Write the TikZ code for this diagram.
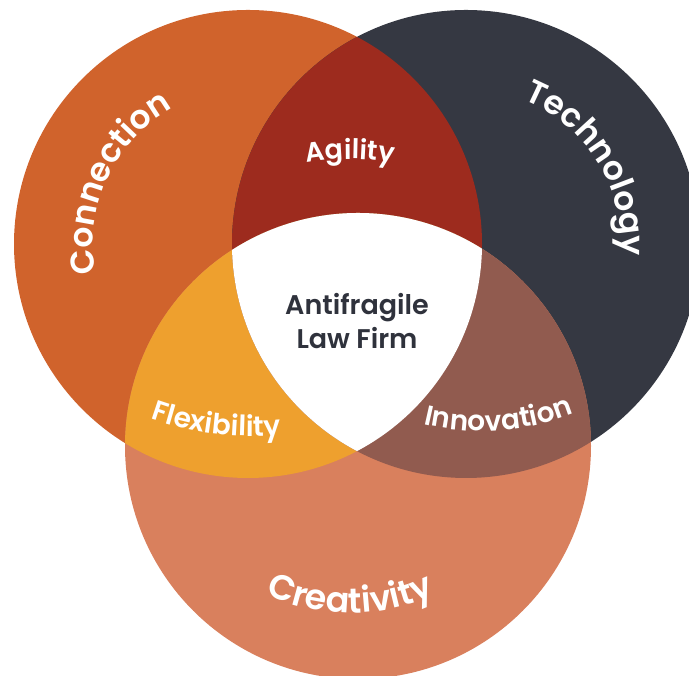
\documentclass[tikz,border=0pt]{standalone}
\usepackage{fontspec}
\setmainfont{Poppins}
\newfontfamily\popsemi{Poppins SemiBold}
\usetikzlibrary{decorations.text}

\definecolor{connC}{HTML}{D0632C}
\definecolor{techC}{HTML}{353842}
\definecolor{creaC}{HTML}{D9805D}
\definecolor{agilC}{HTML}{9D2B1E}
\definecolor{flexC}{HTML}{EEA02E}
\definecolor{innoC}{HTML}{915B4F}
\definecolor{coreText}{HTML}{2F323C}

\tikzset{
  arclabel/.style n args={2}{
    decorate,
    decoration={text along path, text align=center, text color=white,
      text={|\popsemi\fontsize{#1}{#1}\selectfont|#2}}
  },
  corelabel/.style={anchor=base, text=coreText, inner sep=0pt,
    font=\popsemi\fontsize{27}{27}\selectfont}
}

\begin{document}
\begin{tikzpicture}[x=1pt,y=1pt]
  \useasboundingbox (0,0) rectangle (689,676);

  % circle centres
  \coordinate (cC) at (248,432);
  \coordinate (cT) at (466,432);
  \coordinate (cR) at (358,230);

  % the three sets
  \fill[connC] (cC) circle[radius=234];
  \fill[techC] (cT) circle[radius=234];
  \fill[creaC] (cR) circle[radius=233];

  % pairwise overlaps
  \begin{scope}
    \clip (cC) circle[radius=234];
    \fill[agilC] (cT) circle[radius=234];
  \end{scope}
  \begin{scope}
    \clip (cC) circle[radius=234];
    \fill[flexC] (cR) circle[radius=233];
  \end{scope}
  \begin{scope}
    \clip (cT) circle[radius=234];
    \fill[innoC] (cR) circle[radius=233];
  \end{scope}

  % common core
  \begin{scope}
    \clip (cC) circle[radius=234];
    \clip (cT) circle[radius=234];
    \fill[white] (cR) circle[radius=233];
  \end{scope}

  % set labels along arcs
  \path[arclabel={33}{Connection}]
    (cC) ++(215:155) arc[start angle=215, end angle=95, radius=155];
  \path[arclabel={33}{Technology}]
    (cT) ++(92:155) arc[start angle=92, end angle=-28, radius=155];
  \coordinate (cRt) at (350,263);
  \path[arclabel={35}{Creativity}]
    (cRt) ++(225:200) arc[start angle=225, end angle=315, radius=200];

  % overlap labels
  \coordinate (cA) at (350,267);
  \path[arclabel={27}{Agility}]
    (cA) ++(110:250) arc[start angle=110, end angle=70, radius=250];
  \coordinate (cF) at (251.6,539.8);
  \path[arclabel={28}{Flexibility}]
    (cF) ++(233:300) arc[start angle=233, end angle=293, radius=300];
  \coordinate (cI) at (482,495);
  \path[arclabel={28}{Innovation}]
    (cI) ++(234:250) arc[start angle=234, end angle=314, radius=250];

  % core label
  \node[corelabel] (core1) at (357,361) {Antifragile};
  \node[corelabel] (core2) at (357,327) {Law Firm};
\end{tikzpicture}
\end{document}
